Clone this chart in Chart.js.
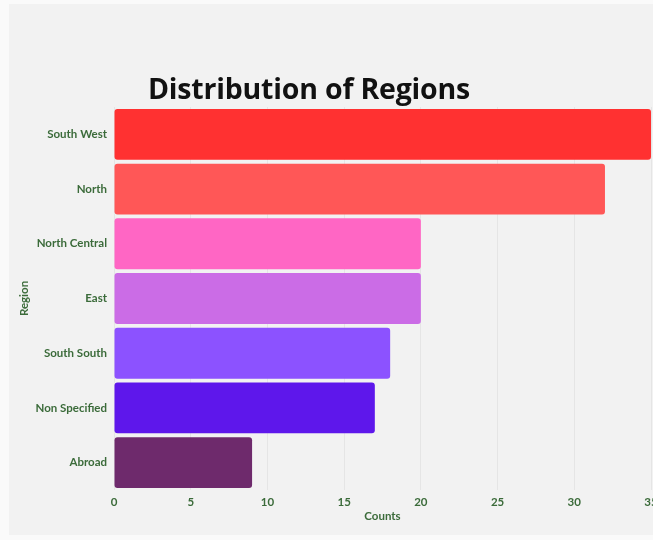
<!DOCTYPE html>
<html>
<head>
<meta charset="utf-8">
<script src="https://cdn.jsdelivr.net/npm/chart.js@4/dist/chart.umd.min.js"></script>
<style>
  html, body { margin: 0; padding: 0; overflow: hidden; background: #fafafa; }
  #panel {
    position: absolute; left: 9px; top: 4px; width: 660px; height: 531px;
    background: #f2f2f2;
  }
  #wrap { position: absolute; left: 10px; top: 0; width: 660px; height: 540px; }
  #title {
    position: absolute; left: 0; top: 69px; width: 598px; text-align: center;
    font-family: "Open Sans", "Noto Sans", sans-serif; font-weight: 700;
    font-size: 28.5px; color: #111; z-index: 2; letter-spacing: -0.2px;
  }
</style>
</head>
<body>
<div id="panel"></div>
<div id="wrap">
  <div id="title">Distribution of Regions</div>
  <canvas id="chart" width="660" height="540"></canvas>
</div>
<script>
// Regions and their counts
const regions = ['South West', 'North', 'North Central', 'East', 'South South', 'Non Specified', 'Abroad'];
const counts = [35, 32, 20, 20, 18, 17, 9];
const barColors = ['#ff3131', '#ff5757', '#ff66c4', '#cb6ce6', '#8c52ff', '#5e17eb', '#6e2a6c'];

const green = '#3b6b3a';
const labelFont = { family: 'Lato, "Noto Sans", sans-serif', weight: 'bold', size: 11.5 };

new Chart(document.getElementById('chart'), {
  type: 'bar',
  data: {
    labels: regions,
    datasets: [{
      label: 'Counts',
      data: counts,
      backgroundColor: barColors,
      borderRadius: 3,
      borderSkipped: false,
      categoryPercentage: 1,
      barPercentage: 0.93
    }]
  },
  options: {
    indexAxis: 'y',
    responsive: false,
    animation: false,
    layout: { padding: { top: 107, right: 19, bottom: 13, left: 0 } },
    plugins: {
      legend: { display: false },
      title: { display: false },
      tooltip: { enabled: false }
    },
    scales: {
      x: {
        min: 0,
        max: 35,
        ticks: { stepSize: 5, color: green, font: labelFont, padding: 5 },
        grid: { color: 'rgba(0,0,0,0.05)', drawTicks: false },
        border: { display: false },
        title: { display: true, text: 'Counts', color: green, font: labelFont, padding: 4 },
        afterFit(scale) {
          scale.height = 37;
          scale.paddingRight = 0;
        }
      },
      y: {
        ticks: { color: green, font: labelFont, padding: 7 },
        grid: { display: false, drawTicks: false },
        border: { display: false },
        title: { display: true, text: 'Region', color: green, font: labelFont, padding: 7 },
        afterFit(scale) {
          scale.width = 104;
        }
      }
    }
  }
});
</script>
</body>
</html>
